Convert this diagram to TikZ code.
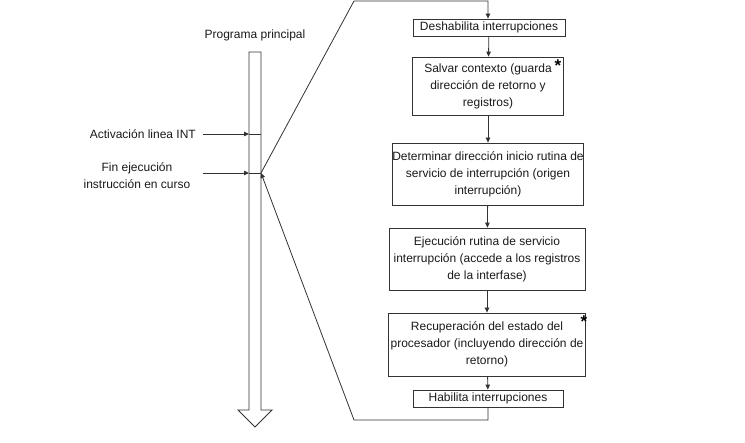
\documentclass[tikz,border=0pt]{standalone}
\usepackage{fontspec}
\setmainfont{Liberation Sans}
\usetikzlibrary{arrows.meta}
\begin{document}
\begin{tikzpicture}[x=1pt,y=-1pt,
  box/.style={draw=black!80, line width=0.8pt, inner sep=0pt, align=center,
    font=\fontsize{12}{17}\selectfont, text=black!90},
  lbl/.style={inner sep=0pt, align=center, font=\fontsize{12}{17}\selectfont, text=black!90},
  conn/.style={draw=black!80, line width=0.8pt},
  arr/.style={conn, -{Triangle[length=5pt,width=4.5pt]}},
  star/.style={inner sep=0pt, font=\fontsize{17}{17}\selectfont\bfseries}]
\useasboundingbox (0,0) rectangle (745,443);

% main program arrow
\draw[conn, line width=0.9pt] (249,52) -- (261,52) -- (261,410) -- (272,410) -- (255,427)
  -- (238,410) -- (249,410) -- cycle;
\coordinate (actL) at (249,134);
\coordinate (actR) at (261,134);
\coordinate (finL) at (249,173);
\coordinate (finR) at (261,173);
\draw[conn] (actL) -- (actR);
\draw[conn] (finL) -- (finR);

\node[lbl] (prog) at (255,35) {Programa principal};
\node[lbl, anchor=east] (act) at (196,134) {Activación linea INT};
\node[lbl] (fin) at (137,176) {Fin ejecución\\instrucción en curso};
\coordinate (actS) at (203,134);
\coordinate (finS) at (203,173);
\draw[arr] (actS) -- (actL);
\draw[arr] (finS) -- (finL);

% flow boxes
\node[box, minimum width=152pt, minimum height=17pt] (b1) at (489,27.5) {Deshabilita interrupciones};
\node[box, minimum width=151pt, minimum height=58pt] (b2) at (488,86) {Salvar contexto (guarda\\dirección de retorno y\\registros)};
\node[box, minimum width=191pt, minimum height=62pt] (b3) at (488,174) {Determinar dirección inicio rutina de\\servicio de interrupción (origen\\interrupción)};
\node[box, minimum width=196pt, minimum height=62pt] (b4) at (487,259) {Ejecución rutina de servicio\\interrupción (accede a los registros\\de la interfase)};
\node[box, minimum width=197pt, minimum height=63pt] (b5) at (487,344.5) {Recuperación del estado del\\procesador (incluyendo dirección de\\retorno)};
\node[box, minimum width=150pt, minimum height=17pt] (b6) at (488,398.5) {Habilita interrupciones};

\node[star] (s1) at (558,66) {*};
\node[star] (s2) at (584,322) {*};

\draw[arr] (b1) -- (b2);
\draw[arr] (b2) -- (b3);
\draw[arr] (b3) -- (b4);
\draw[arr] (b4) -- (b5);
\draw[arr] (b5) -- (b6);

\coordinate (tA) at (354,1);
\coordinate (tB) at (488,1);
\coordinate (rA) at (488,420);
\coordinate (rB) at (354,420);
\draw[arr] (finR) -- (tA) -- (tB) -- (tB |- b1.north);
\draw[arr] (b6.south -| rA) -- (rA) -- (rB) -- (finR);
\end{tikzpicture}
\end{document}
